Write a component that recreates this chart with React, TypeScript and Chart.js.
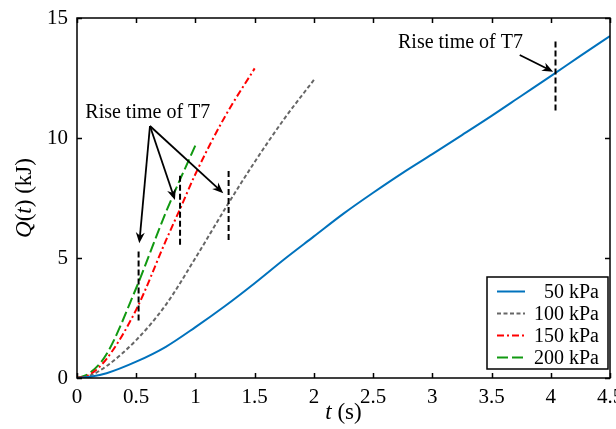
import React, { useEffect, useRef } from "react";
import { Chart, registerables } from "chart.js";

Chart.register(...registerables);

// ---- data ----
const seriesLabels = ["50 kPa", "100 kPa", "150 kPa", "200 kPa"];

const t50 = [0, 0.1, 0.25, 0.5, 0.75, 1.0, 1.25, 1.5, 1.75, 2.0, 2.25, 2.5, 2.75, 3.0, 3.25, 3.5, 3.75, 4.0, 4.25, 4.5];
const q50 = [0, 0.04, 0.2, 0.68, 1.3, 2.12, 3.0, 3.95, 4.95, 5.9, 6.85, 7.72, 8.55, 9.33, 10.12, 10.92, 11.75, 12.58, 13.42, 14.25];

const t100 = [0, 0.1, 0.25, 0.5, 0.75, 1.0, 1.25, 1.5, 1.75, 2.0];
const q100 = [0, 0.08, 0.5, 1.58, 3.05, 5.0, 7.05, 9.0, 10.8, 12.42];

const t150 = [0, 0.1, 0.25, 0.5, 0.75, 0.875, 1.0, 1.25, 1.5];
const q150 = [0, 0.12, 0.8, 2.85, 5.72, 7.1, 8.5, 10.9, 12.9];

const t200 = [0, 0.1, 0.25, 0.5, 0.75, 1.0];
const q200 = [0, 0.18, 1.0, 3.75, 6.9, 9.7];

const xTicks = [0, 0.5, 1, 1.5, 2, 2.5, 3, 3.5, 4, 4.5];
const yTicks = [0, 5, 10, 15];

// rise-time markers (one per series)
const riseT = [4.04, 1.28, 0.87, 0.52];
const riseLow = [11.15, 5.75, 5.55, 2.4];
const riseHigh = [14.07, 8.67, 8.45, 5.4];

// annotations
const noteText = "Rise time of T7";
const noteX = [0.07, 2.71];
const noteY = [11.04, 13.96];
const arrowFromX = [0.616, 0.616, 0.616, 3.738];
const arrowFromY = [10.5, 10.5, 10.5, 13.46];
const arrowToX = [0.526, 0.827, 1.235, 4.02];
const arrowToY = [5.61, 7.42, 7.7, 12.76];

// ---- styles ----
const FONT = "'Liberation Serif', 'Times New Roman', serif";
const colors = ["#0072BD", "#666666", "#FF0000", "#119911"];
const dashes: number[][] = [[], [4, 2.5], [7, 3, 2, 3], [11, 4]];

function pts(t: number[], q: number[]) {
  return t.map((v, i) => ({ x: v, y: q[i] }));
}

function drawSegments(ctx: CanvasRenderingContext2D, segs: { s: string; it: boolean }[], cx: number, cy: number, size: number) {
  let total = 0;
  const widths = segs.map((sg) => {
    ctx.font = `${sg.it ? "italic " : ""}${size}px ${FONT}`;
    const w = ctx.measureText(sg.s).width;
    total += w;
    return w;
  });
  let x = cx - total / 2;
  ctx.textBaseline = "middle";
  ctx.textAlign = "left";
  segs.forEach((sg, i) => {
    ctx.font = `${sg.it ? "italic " : ""}${size}px ${FONT}`;
    ctx.fillText(sg.s, x, cy);
    x += widths[i];
  });
}

function arrow(ctx: CanvasRenderingContext2D, x1: number, y1: number, x2: number, y2: number) {
  const ang = Math.atan2(y2 - y1, x2 - x1);
  const L = 11;
  const W = 4.5;
  const bx = x2 - L * Math.cos(ang);
  const by = y2 - L * Math.sin(ang);
  ctx.beginPath();
  ctx.moveTo(x1, y1);
  ctx.lineTo(x2 - 6 * Math.cos(ang), y2 - 6 * Math.sin(ang));
  ctx.stroke();
  const nx = -Math.sin(ang);
  const ny = Math.cos(ang);
  ctx.beginPath();
  ctx.moveTo(x2, y2);
  ctx.lineTo(bx + nx * W, by + ny * W);
  ctx.lineTo(x2 - 0.7 * L * Math.cos(ang), y2 - 0.7 * L * Math.sin(ang));
  ctx.lineTo(bx - nx * W, by - ny * W);
  ctx.closePath();
  ctx.fill();
}

const overlay = {
  id: "overlay",
  afterDraw(chart: any) {
    const ctx: CanvasRenderingContext2D = chart.ctx;
    const a = chart.chartArea;
    const xs = chart.scales.x;
    const ys = chart.scales.y;
    ctx.save();
    ctx.strokeStyle = "#000";
    ctx.fillStyle = "#000";

    // frame
    ctx.lineWidth = 1.5;
    ctx.setLineDash([]);
    ctx.strokeRect(a.left, a.top, a.right - a.left, a.bottom - a.top);
    const tl = 5;
    ctx.beginPath();
    xTicks.forEach((v) => {
      const px = Math.round(xs.getPixelForValue(v)) + 0.5;
      ctx.moveTo(px, a.bottom);
      ctx.lineTo(px, a.bottom - tl);
      ctx.moveTo(px, a.top);
      ctx.lineTo(px, a.top + tl);
    });
    yTicks.forEach((v) => {
      const py = Math.round(ys.getPixelForValue(v)) + 0.5;
      ctx.moveTo(a.left, py);
      ctx.lineTo(a.left + tl, py);
      ctx.moveTo(a.right, py);
      ctx.lineTo(a.right - tl, py);
    });
    ctx.stroke();

    // annotations text
    ctx.font = `20px ${FONT}`;
    ctx.textBaseline = "middle";
    ctx.textAlign = "left";
    noteX.forEach((v, i) => {
      ctx.fillText(noteText, xs.getPixelForValue(v), ys.getPixelForValue(noteY[i]));
    });

    // arrows
    ctx.lineWidth = 1.8;
    arrowFromX.forEach((v, i) => {
      arrow(
        ctx,
        xs.getPixelForValue(v),
        ys.getPixelForValue(arrowFromY[i]),
        xs.getPixelForValue(arrowToX[i]),
        ys.getPixelForValue(arrowToY[i])
      );
    });

    // axis titles
    drawSegments(
      ctx,
      [
        { s: "t", it: true },
        { s: " (s)", it: false },
      ],
      (a.left + a.right) / 2,
      413,
      23
    );
    ctx.save();
    ctx.translate(25, (a.top + a.bottom) / 2);
    ctx.rotate(-Math.PI / 2);
    drawSegments(
      ctx,
      [
        { s: "Q", it: true },
        { s: "(", it: false },
        { s: "t", it: true },
        { s: ") (kJ)", it: false },
      ],
      0,
      0,
      23
    );
    ctx.restore();

    // legend
    const bw = 121;
    const bh = 92;
    const bx = a.right - 2 - bw;
    const by = a.bottom - 9 - bh;
    ctx.fillStyle = "#fff";
    ctx.fillRect(bx, by, bw, bh);
    ctx.lineWidth = 1.5;
    ctx.strokeStyle = "#000";
    ctx.setLineDash([]);
    ctx.strokeRect(bx, by, bw, bh);
    ctx.font = `20px ${FONT}`;
    ctx.textAlign = "right";
    ctx.textBaseline = "middle";
    seriesLabels.forEach((lab, i) => {
      const ry = by + 14.5 + i * 22;
      ctx.strokeStyle = colors[i];
      ctx.lineWidth = 2;
      ctx.setLineDash(dashes[i]);
      ctx.beginPath();
      ctx.moveTo(bx + 10, ry);
      ctx.lineTo(bx + 38, ry);
      ctx.stroke();
      ctx.setLineDash([]);
      ctx.fillStyle = "#000";
      ctx.fillText(lab, bx + bw - 9, ry + 1);
    });

    ctx.restore();
  },
};

export default function App() {
  const ref = useRef<HTMLCanvasElement | null>(null);

  useEffect(() => {
    document.body.style.margin = "0";
    const canvas = ref.current;
    if (!canvas) return;
    const series = [pts(t50, q50), pts(t100, q100), pts(t150, q150), pts(t200, q200)];
    const datasets: any[] = series.map((d, i) => ({
      label: seriesLabels[i],
      data: d,
      borderColor: colors[i],
      borderDash: dashes[i],
      borderWidth: 2,
      pointRadius: 0,
      fill: false,
      cubicInterpolationMode: "monotone",
      order: 2,
    }));
    riseT.forEach((t, i) => {
      datasets.push({
        label: "rise" + i,
        data: [
          { x: t, y: riseLow[i] },
          { x: t, y: riseHigh[i] },
        ],
        borderColor: "#000",
        borderDash: [6, 3],
        borderWidth: 2,
        pointRadius: 0,
        fill: false,
        order: 1,
      });
    });

    const chart = new Chart(canvas, {
      type: "line",
      data: { datasets },
      options: {
        responsive: false,
        animation: false,
        events: [],
        layout: { padding: { top: 18, right: 6, left: 0, bottom: 0 } },
        plugins: {
          legend: { display: false },
          tooltip: { enabled: false },
        },
        scales: {
          x: {
            type: "linear",
            min: 0,
            max: 4.5,
            grid: { display: false, drawTicks: false },
            border: { display: false },
            afterBuildTicks: (s: any) => {
              s.ticks = xTicks.map((v) => ({ value: v }));
            },
            afterFit: (s: any) => {
              s.height = 51;
              s.paddingLeft = 0;
              s.paddingRight = 0;
            },
            ticks: {
              autoSkip: false,
              maxRotation: 0,
              padding: 7,
              color: "#000",
              font: { family: FONT, size: 21 },
              callback: (v: any) => String(v),
            },
          },
          y: {
            type: "linear",
            min: 0,
            max: 15,
            grid: { display: false, drawTicks: false },
            border: { display: false },
            afterBuildTicks: (s: any) => {
              s.ticks = yTicks.map((v) => ({ value: v }));
            },
            afterFit: (s: any) => {
              s.width = 77;
              s.paddingTop = 0;
              s.paddingBottom = 0;
            },
            ticks: {
              autoSkip: false,
              padding: 9,
              color: "#000",
              font: { family: FONT, size: 21 },
              callback: (v: any) => String(v),
            },
          },
        },
      },
      plugins: [overlay],
    });
    return () => chart.destroy();
  }, []);

  return <canvas ref={ref} width={616} height={429} style={{ display: "block" }} />;
}
